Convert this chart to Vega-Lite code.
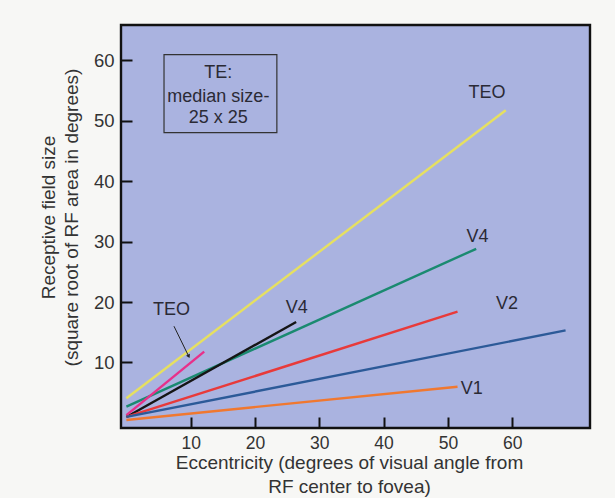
{
  "$schema": "https://vega.github.io/schema/vega-lite/v6.json",
  "width": 469,
  "height": 403,
  "autosize": "none",
  "padding": {"left": 121, "top": 25, "right": 25, "bottom": 70},
  "background": "#f7f7f5",
  "config": {
    "font": "Liberation Sans",
    "view": {"fill": "#aab3e0", "stroke": "#111111", "strokeWidth": 2.4}
  },
  "datasets": {
    "lines": [
      {"series": "TEO long", "x": 0, "y": 4.1},
      {"series": "TEO long", "x": 59, "y": 51.7},
      {"series": "V4 long", "x": 0, "y": 2.7},
      {"series": "V4 long", "x": 54.4, "y": 28.8},
      {"series": "V4 short", "x": 0, "y": 1.0},
      {"series": "V4 short", "x": 26.4, "y": 16.7},
      {"series": "TEO short", "x": 0, "y": 1.3},
      {"series": "TEO short", "x": 12.1, "y": 11.8},
      {"series": "V2 red", "x": 0, "y": 1.0},
      {"series": "V2 red", "x": 51.5, "y": 18.4},
      {"series": "V2 blue", "x": 0, "y": 1.0},
      {"series": "V2 blue", "x": 68.3, "y": 15.3},
      {"series": "V1", "x": 0, "y": 0.5},
      {"series": "V1", "x": 51.5, "y": 6.0}
    ],
    "labels": [
      {"text": "TEO", "x": 56.1, "y": 54.6},
      {"text": "V4", "x": 54.6, "y": 30.7},
      {"text": "V2", "x": 59.2, "y": 19.7},
      {"text": "V1", "x": 53.7, "y": 5.6},
      {"text": "V4", "x": 26.5, "y": 19.0},
      {"text": "TEO", "x": 7.0, "y": 18.6}
    ],
    "boxtext": [
      {"text": "TE:", "x": 14.3, "y": 57.8},
      {"text": "median size-", "x": 14.3, "y": 53.9},
      {"text": "25 x 25", "x": 14.3, "y": 50.5}
    ],
    "box": [{"x": 5.85, "x2": 23.4, "y": 60.9, "y2": 48.0}],
    "arrow": [{"x": 7.4, "y": 16.0, "x2": 9.7, "y2": 11.0}]
  },
  "layer": [
    {
      "data": {"name": "lines"},
      "mark": {"type": "line", "strokeWidth": 2.4},
      "encoding": {
        "x": {
          "field": "x", "type": "quantitative",
          "scale": {"domain": [-0.84, 72.1], "nice": false, "zero": false},
          "axis": {
            "values": [10, 20, 30, 40, 50, 60],
            "grid": false, "domain": false,
            "tickSize": -11, "tickColor": "#111111", "tickWidth": 2,
            "labelPadding": 17, "labelFontSize": 17.5, "labelColor": "#333333",
            "title": ["Eccentricity (degrees of visual angle from", "RF center to fovea)"],
            "titleFontSize": 19, "titleFontWeight": "normal", "titleColor": "#333333",
            "titleLineHeight": 24, "titleBaseline": "top", "titleX": 228, "titleY": 25
          }
        },
        "y": {
          "field": "y", "type": "quantitative",
          "scale": {"domain": [-0.83, 65.8], "nice": false, "zero": false},
          "axis": {
            "values": [10, 20, 30, 40, 50, 60],
            "grid": false, "domain": false,
            "tickSize": -11, "tickColor": "#111111", "tickWidth": 2,
            "labelPadding": 18, "labelFontSize": 18.5, "labelColor": "#333333",
            "title": ["Receptive field size", "(square root of RF area in degrees)"],
            "titleFontSize": 19, "titleFontWeight": "normal", "titleColor": "#333333",
            "titleLineHeight": 23, "titleBaseline": "top", "titleX": -82, "titleY": 192
          }
        },
        "color": {
          "field": "series", "type": "nominal", "legend": null,
          "scale": {
            "domain": ["TEO long", "V4 long", "V4 short", "TEO short", "V2 red", "V2 blue", "V1"],
            "range": ["#e6e060", "#1a8a70", "#151515", "#e8308a", "#e83a3a", "#2c5a98", "#f07830"]
          }
        },
        "detail": {"field": "series"}
      }
    },
    {
      "data": {"name": "box"},
      "mark": {"type": "rect", "fill": null, "fillOpacity": 0, "stroke": "#333333", "strokeWidth": 1.2},
      "encoding": {
        "x": {"field": "x", "type": "quantitative"},
        "x2": {"field": "x2"},
        "y": {"field": "y", "type": "quantitative"},
        "y2": {"field": "y2"}
      }
    },
    {
      "data": {"name": "boxtext"},
      "mark": {"type": "text", "fontSize": 18, "color": "#2a2a35", "align": "center", "baseline": "middle"},
      "encoding": {
        "x": {"field": "x", "type": "quantitative"},
        "y": {"field": "y", "type": "quantitative"},
        "text": {"field": "text"}
      }
    },
    {
      "data": {"name": "labels"},
      "mark": {"type": "text", "fontSize": 18, "color": "#2a2a35", "align": "center", "baseline": "middle"},
      "encoding": {
        "x": {"field": "x", "type": "quantitative"},
        "y": {"field": "y", "type": "quantitative"},
        "text": {"field": "text"}
      }
    },
    {
      "data": {"name": "arrow"},
      "mark": {"type": "rule", "color": "#222222", "strokeWidth": 1},
      "encoding": {
        "x": {"field": "x", "type": "quantitative"},
        "y": {"field": "y", "type": "quantitative"},
        "x2": {"field": "x2"},
        "y2": {"field": "y2"}
      }
    },
    {
      "data": {"name": "arrow"},
      "mark": {"type": "point", "shape": "triangle-up", "filled": true, "color": "#222222", "size": 18, "angle": 154, "opacity": 1},
      "encoding": {
        "x": {"field": "x2", "type": "quantitative"},
        "y": {"field": "y2", "type": "quantitative"}
      }
    }
  ]
}
